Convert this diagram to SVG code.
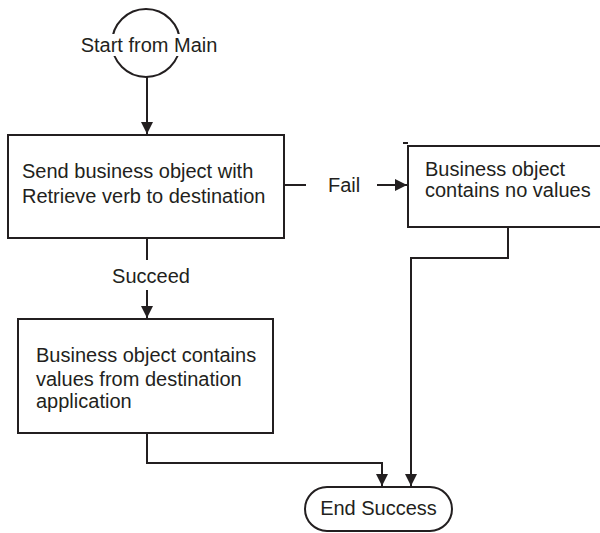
<svg xmlns="http://www.w3.org/2000/svg" width="600" height="533" viewBox="0 0 600 533">
<defs>
<style>
.s{fill:#fff;stroke:#231f20;stroke-width:2}
.c{fill:none;stroke:#231f20;stroke-width:2}
text{font-family:"Liberation Sans",Arial,sans-serif;font-size:20px;fill:#231f20}
</style>
<marker id="a" viewBox="0 0 10 10" refX="10" refY="5" markerWidth="6" markerHeight="6" markerUnits="userSpaceOnUse" orient="auto">
<path d="M0,0 L10,5 L0,10 z" fill="#231f20"/>
</marker>
<marker id="ah" viewBox="0 0 12 12" refX="12" refY="6" markerWidth="12" markerHeight="12" markerUnits="userSpaceOnUse" orient="auto">
<path d="M0,0 L12,6 L0,12 z" fill="#231f20"/>
</marker>
</defs>
<g id="connectors">
<path class="c" d="M147,77 V134" marker-end="url(#ah)"/>
<path class="c" d="M147,238 V260"/>
<path class="c" d="M147,290 V318" marker-end="url(#ah)"/>
<path class="c" d="M284,185 H306"/>
<path class="c" d="M377,185 H407" marker-end="url(#ah)"/>
<path class="c" d="M508,227 V258 H411 V486" marker-end="url(#ah)"/>
<path class="c" d="M147,433 V463 H382 V486" marker-end="url(#ah)"/>
<text x="151" y="283" text-anchor="middle">Succeed</text>
<text x="328" y="192">Fail</text>
</g>
<g id="start">
<circle class="s" cx="146" cy="43" r="34"/>
<rect x="80" y="34" width="138" height="22" fill="#fff"/>
<text x="149" y="52" text-anchor="middle">Start from Main</text>
</g>
<g id="send">
<rect class="s" x="8" y="135" width="276" height="103"/>
<text x="22" y="178">Send business object with</text>
<text x="22" y="203">Retrieve verb to destination</text>
</g>
<g id="novalues">
<rect class="s" x="408" y="146" width="210" height="81"/>
<path class="c" d="M403,143 H408" stroke-width="1"/>
<text x="425" y="176">Business object</text>
<text x="425" y="197">contains no values</text>
</g>
<g id="values">
<rect class="s" x="18" y="319" width="255" height="114"/>
<text x="36" y="362">Business object contains</text>
<text x="36" y="386">values from destination</text>
<text x="36" y="408">application</text>
</g>
<g id="end">
<rect class="s" x="305" y="487" width="147" height="44" rx="22" ry="22"/>
<text x="378.5" y="515" text-anchor="middle">End Success</text>
</g>
</svg>
